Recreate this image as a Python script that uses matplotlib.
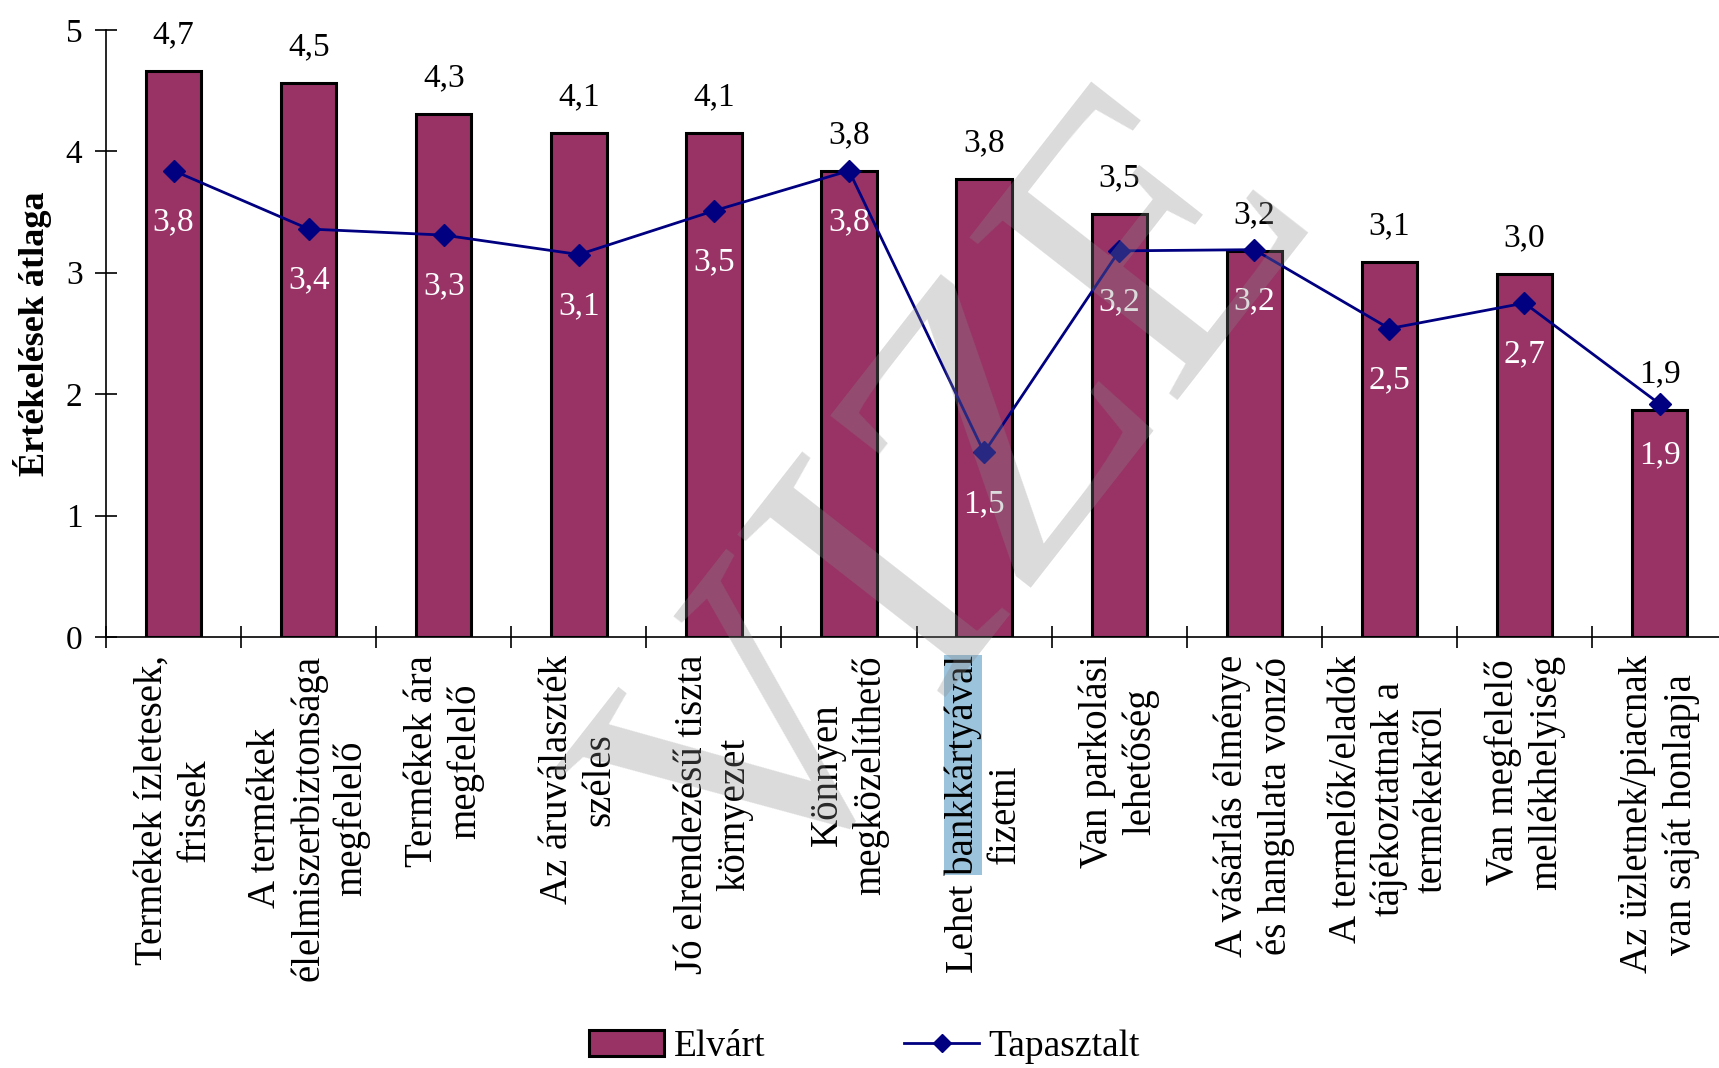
import numpy as np
import matplotlib
matplotlib.use('Agg')
import matplotlib.pyplot as plt
from matplotlib.patches import Rectangle
from matplotlib.lines import Line2D
from matplotlib.patches import Patch

plt.rcParams['font.family'] = 'Liberation Serif'

categories = ['Termékek ízletesek,\nfrissek',
              'A termékek\nélelmiszerbiztonsága\nmegfelelő',
              'Termékek ára\nmegfelelő',
              'Az áruválaszték\nszéles',
              'Jó elrendezésű tiszta\nkörnyezet',
              'Könnyen\nmegközelíthető',
              'Lehet bankkártyával\nfizetni',
              'Van parkolási\nlehetőség',
              'A vásárlás élménye\nés hangulata vonzó',
              'A termelők/eladók\ntájékoztatnak a\ntermékekről',
              'Van megfelelő\nmellékhelyiség',
              'Az üzletnek/piacnak\nvan saját honlapja']

elvart = [4.66, 4.56, 4.31, 4.15, 4.15, 3.84, 3.77, 3.48, 3.18, 3.09, 2.99, 1.87]
tapasztalt = [3.84, 3.36, 3.31, 3.15, 3.51, 3.84, 1.52, 3.18, 3.19, 2.54, 2.75, 1.92]
elvart_labels = ['4,7', '4,5', '4,3', '4,1', '4,1', '3,8', '3,8', '3,5', '3,2', '3,1', '3,0', '1,9']
tapasztalt_labels = ['3,8', '3,4', '3,3', '3,1', '3,5', '3,8', '1,5', '3,2', '3,2', '2,5', '2,7', '1,9']

bar_color = '#993366'
line_color = '#000080'
fs = 24
xfs = 28

fig = plt.figure(figsize=(17.19, 10.68), dpi=100)
ax = fig.add_axes([0.0617, 0.4036, 0.943, 0.5684])

x = np.arange(len(categories))
ax.bar(x, elvart, width=0.41, color=bar_color, edgecolor='black', linewidth=2.2, zorder=2)
ax.plot(x, tapasztalt, color=line_color, linewidth=2, marker='D', markersize=11, zorder=3)

for xi, v, s in zip(x, elvart, elvart_labels):
    ax.annotate(s, (xi, v), xytext=(0, 26), textcoords='offset points',
                ha='center', va='center', fontsize=fs, color='black')
for xi, v, s in zip(x, tapasztalt, tapasztalt_labels):
    ax.annotate(s, (xi, v), xytext=(0, -37), textcoords='offset points',
                ha='center', va='center', fontsize=fs, color='white', zorder=4)

ax.set_xlim(-0.5, 11.5)
ax.set_ylim(0, 5)
ax.set_yticks([0, 1, 2, 3, 4, 5])
ax.tick_params(axis='y', direction='inout', length=16, width=1.2, labelsize=fs, pad=9)
ax.set_xticks(x)
ax.set_xticklabels(categories, rotation=90, ha='center', va='top', fontsize=xfs, linespacing=1.2)
ax.tick_params(axis='x', which='major', length=0, pad=13)
ax.set_xticks(np.arange(-0.5, 12, 1), minor=True)
ax.tick_params(axis='x', which='minor', direction='inout', length=16, width=1.2)
for side in ['top', 'right']:
    ax.spines[side].set_visible(False)
ax.spines['left'].set_linewidth(1.2)
ax.spines['bottom'].set_linewidth(1.2)
ax.set_ylabel('Értékelések átlaga', fontsize=26, fontweight='bold', labelpad=10)

# highlight on "bankkártyával"
fig.canvas.draw()
renderer = fig.canvas.get_renderer()
lbl = ax.get_xticklabels()[6]
bb = lbl.get_window_extent(renderer)
tmp = fig.text(0, 0, 'bankkártyával', fontsize=xfs)
tb = tmp.get_window_extent(renderer)
tmp.remove()
W, H = fig.bbox.width, fig.bbox.height
fig.add_artist(Rectangle((bb.x0 / W, (bb.y1 - tb.width) / H), tb.height / W, tb.width / H,
                         transform=fig.transFigure, facecolor='#9cc3dc', edgecolor='none', zorder=-1))

handles = [Patch(facecolor=bar_color, edgecolor='black', linewidth=2.2),
           Line2D([0], [0], color=line_color, linewidth=2, marker='D', markersize=9)]
fig.legend(handles, ['Elvárt', 'Tapasztalt'], loc='center', bbox_to_anchor=(0.503, 0.02),
           ncol=2, frameon=False, fontsize=27, handlelength=2.0, columnspacing=3.7,
           handletextpad=0.25)

# faint watermark
fig.text(0.56, 0.52, 'VIZE', fontsize=290, color='#888888', alpha=0.3, rotation=52,
         ha='center', va='center', zorder=10)

fig.savefig('out.png', dpi=100)
